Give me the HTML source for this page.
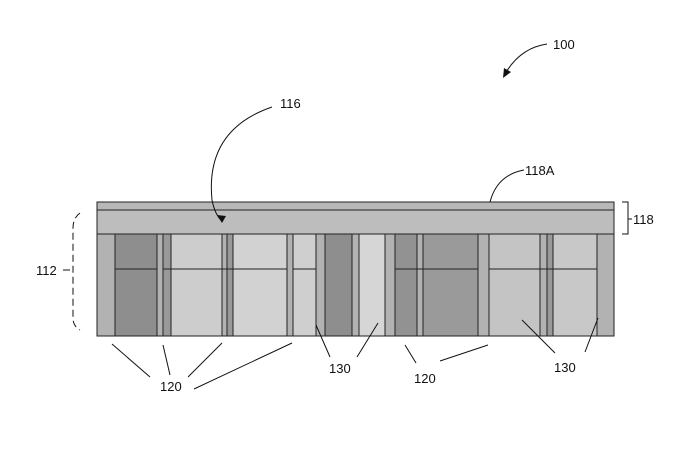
<!DOCTYPE html>
<html><head><meta charset="utf-8"><style>
html,body{margin:0;padding:0;background:#fff;}
svg{display:block;}
text{font-family:"Liberation Sans",sans-serif;font-size:13px;fill:#111;}
</style></head><body>
<svg width="682" height="457" viewBox="0 0 682 457" xmlns="http://www.w3.org/2000/svg">
<g stroke="#222" stroke-width="1">
<!-- top layers -->
<rect x="97" y="202" width="517" height="8" fill="#b8b8b8"/>
<rect x="97" y="210" width="517" height="24" fill="#bdbdbd"/>
<!-- body base -->
<rect x="97" y="234" width="517" height="102" fill="#b2b2b2"/>
<!-- columns -->
<rect x="115" y="234" width="42" height="102" fill="#8e8e8e"/>
<rect x="163" y="234" width="8" height="102" fill="#999"/>
<rect x="171" y="234" width="51" height="102" fill="#cdcdcd"/>
<rect x="227" y="234" width="6" height="102" fill="#999"/>
<rect x="233" y="234" width="54" height="102" fill="#d2d2d2"/>
<rect x="293" y="234" width="23" height="102" fill="#cfcfcf"/>
<rect x="325" y="234" width="27" height="102" fill="#8e8e8e"/>
<rect x="359" y="234" width="26" height="102" fill="#d6d6d6"/>
<rect x="395" y="234" width="22" height="102" fill="#929292"/>
<rect x="423" y="234" width="55" height="102" fill="#9a9a9a"/>
<rect x="489" y="234" width="51" height="102" fill="#c4c4c4"/>
<rect x="547" y="234" width="6" height="102" fill="#999"/>
<rect x="553" y="234" width="44" height="102" fill="#c8c8c8"/>
<!-- horizontal divider -->
<line x1="115" y1="269" x2="157" y2="269"/>
<line x1="163" y1="269" x2="287" y2="269"/>
<line x1="293" y1="269" x2="316" y2="269"/>
<line x1="395" y1="269" x2="478" y2="269"/>
<line x1="489" y1="269" x2="597" y2="269"/>
</g>
<g stroke="#111" stroke-width="1" fill="none">
<!-- 100 arrow -->
<path d="M547 44 Q520 48 505 74"/>
<!-- 116 -->
<path d="M272 107 Q205 130 212 200 Q215 215 222 221"/>
<!-- 118A -->
<path d="M524 170 Q497 175 490 202"/>
<!-- 118 bracket -->
<path d="M622 202 H628 V234 H622 M628 219 H632"/>
<!-- 112 brace -->
<path d="M80 213 Q73 218 73 228 V318 Q73 326 80 330" stroke-dasharray="7,4"/>
<line x1="63" y1="270" x2="70" y2="270"/>
<!-- leaders -->
<line x1="112" y1="344" x2="150" y2="377"/>
<line x1="163" y1="345" x2="170" y2="375"/>
<line x1="222" y1="343" x2="188" y2="377"/>
<line x1="292" y1="343" x2="194" y2="389"/>
<line x1="316" y1="325" x2="330" y2="357"/>
<line x1="378" y1="323" x2="357" y2="357"/>
<line x1="405" y1="345" x2="416" y2="363"/>
<line x1="488" y1="345" x2="440" y2="361"/>
<line x1="522" y1="320" x2="555" y2="353"/>
<line x1="598" y1="318" x2="585" y2="352"/>
</g>
<polygon points="503,78 504,68 511,72" fill="#111"/>
<polygon points="222,223 217,215 226,216" fill="#111"/>
<text x="553" y="49">100</text>
<text x="280" y="108">116</text>
<text x="525" y="175">118A</text>
<text x="633" y="224">118</text>
<text x="36" y="275">112</text>
<text x="160" y="391">120</text>
<text x="329" y="373">130</text>
<text x="414" y="383">120</text>
<text x="554" y="372">130</text>
</svg>
</body></html>
